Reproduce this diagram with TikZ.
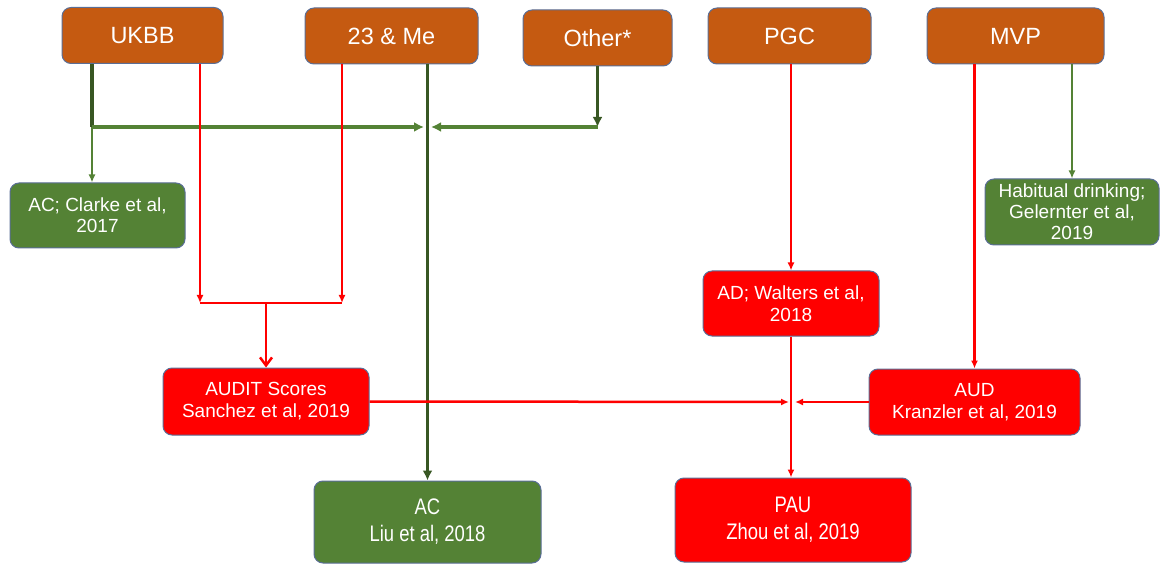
\documentclass[tikz,border=0pt]{standalone}
\usepackage{fontspec}
\setmainfont{Liberation Sans}
\newfontfamily\narrowsans[FakeStretch=0.82]{Liberation Sans}
\usetikzlibrary{arrows.meta,positioning}
\definecolor{srcfill}{HTML}{C55A11}
\definecolor{grnfill}{HTML}{548235}
\definecolor{dkgreen}{HTML}{385723}
\definecolor{edge}{HTML}{5A6E96}

\begin{document}
\begin{tikzpicture}[x=1pt,y=-1pt,
  box/.style={draw=edge, line width=1pt, rounded corners=9pt, text=white, align=center, inner sep=0pt},
  srcbox/.style={box, fill=srcfill, minimum height=56pt, font=\fontsize{23.5}{27}\selectfont},
  grnbox/.style={box, fill=grnfill, font=\fontsize{19}{21}\selectfont},
  redbox/.style={box, fill=red, font=\fontsize{19}{22}\selectfont},
  bigbox/.style={font=\narrowsans\fontsize{22.5}{27}\selectfont},
  grnline/.style={grnfill, line width=3.2pt},
  dkline/.style={dkgreen, line width=3.5pt},
  thinline/.style={grnfill, line width=1.8pt},
  redline/.style={red, line width=2.5pt},
  tip/.style={-{Latex[length=8pt,width=7pt]}},
  bigtip/.style={-{Latex[length=10pt,width=10pt]}}]
\useasboundingbox (0,0) rectangle (1160,564);

% sources
\node[srcbox, minimum width=161pt] (ukbb) at (142.5,35.5) {UKBB};
\node[srcbox, minimum width=173pt] (me) at (391.5,36) {23 \& Me};
\node[srcbox, minimum width=149pt] (other) at (597.5,38) {Other*};
\node[srcbox, minimum width=163pt] (pgc) at (789.5,36) {PGC};
\node[srcbox, minimum width=177pt] (mvp) at (1015.5,36) {MVP};

% studies
\node[grnbox, minimum width=175pt, minimum height=65pt] (clarke) at (97.5,215.5) {AC; Clarke et al,\\2017};
\node[grnbox, minimum width=174pt, minimum height=66pt] (habit) at (1072,212) {Habitual drinking;\\Gelernter et al,\\2019};
\node[redbox, minimum width=176pt, minimum height=65pt] (walters) at (791,303.5) {AD; Walters et al,\\2018};
\node[redbox, minimum width=206pt, minimum height=67pt] (audit) at (266,401.5) {AUDIT Scores\\Sanchez et al, 2019};
\node[redbox, minimum width=211pt, minimum height=66pt] (aud) at (974.5,402) {AUD\\Kranzler et al, 2019};
\node[grnbox, bigbox, minimum width=227pt, minimum height=82pt] (liu) at (427.5,522) {AC\\Liu et al, 2018};
\node[redbox, bigbox, minimum width=236pt, minimum height=84pt] (pau) at (793,520) {PAU\\Zhou et al, 2019};

% junctions
\coordinate (ukj) at (92,127);
\coordinate (otj) at (597.5,127);
\coordinate (inL) at (424,127);
\coordinate (inR) at (431,127);
\coordinate (rA) at (200,303);
\coordinate (rB) at (342,303);
\coordinate (rM) at (266,303);
\coordinate (pL) at (789,402);
\coordinate (pR) at (795,402);

% green connectors
\draw[dkline] (ukbb.south -| ukj) -- (ukj);
\draw[grnline, bigtip] (ukj) -- (inL);
\draw[thinline, tip] (ukj) -- (ukj |- clarke.north);
\draw[dkline, bigtip] (liu.north |- me.south) -- (liu.north);
\draw[dkline, bigtip] (other.south) -- (otj);
\draw[grnline, bigtip] (otj) -- (inR);
\draw[thinline, tip] (mvp.south -| habit.north) -- (habit.north);

% red connectors
\draw[redline, tip] (ukbb.south -| rA) -- (rA);
\draw[redline, tip] (me.south -| rB) -- (rB);
\draw[redline] (rA) -- (rB);
\draw[redline, -{Straight Barb[length=8pt,width=12pt]}] (rM) -- (audit.north);
\draw[redline, tip] (pgc.south -| walters.north) -- (walters.north);
\draw[redline, tip] (mvp.south -| aud.north) -- (aud.north);
\draw[redline, tip] (walters.south) -- (walters.south |- pau.north);
\draw[redline, tip] (audit.east) -- (pL);
\draw[redline, tip] (aud.west) -- (pR);
\end{tikzpicture}
\end{document}
